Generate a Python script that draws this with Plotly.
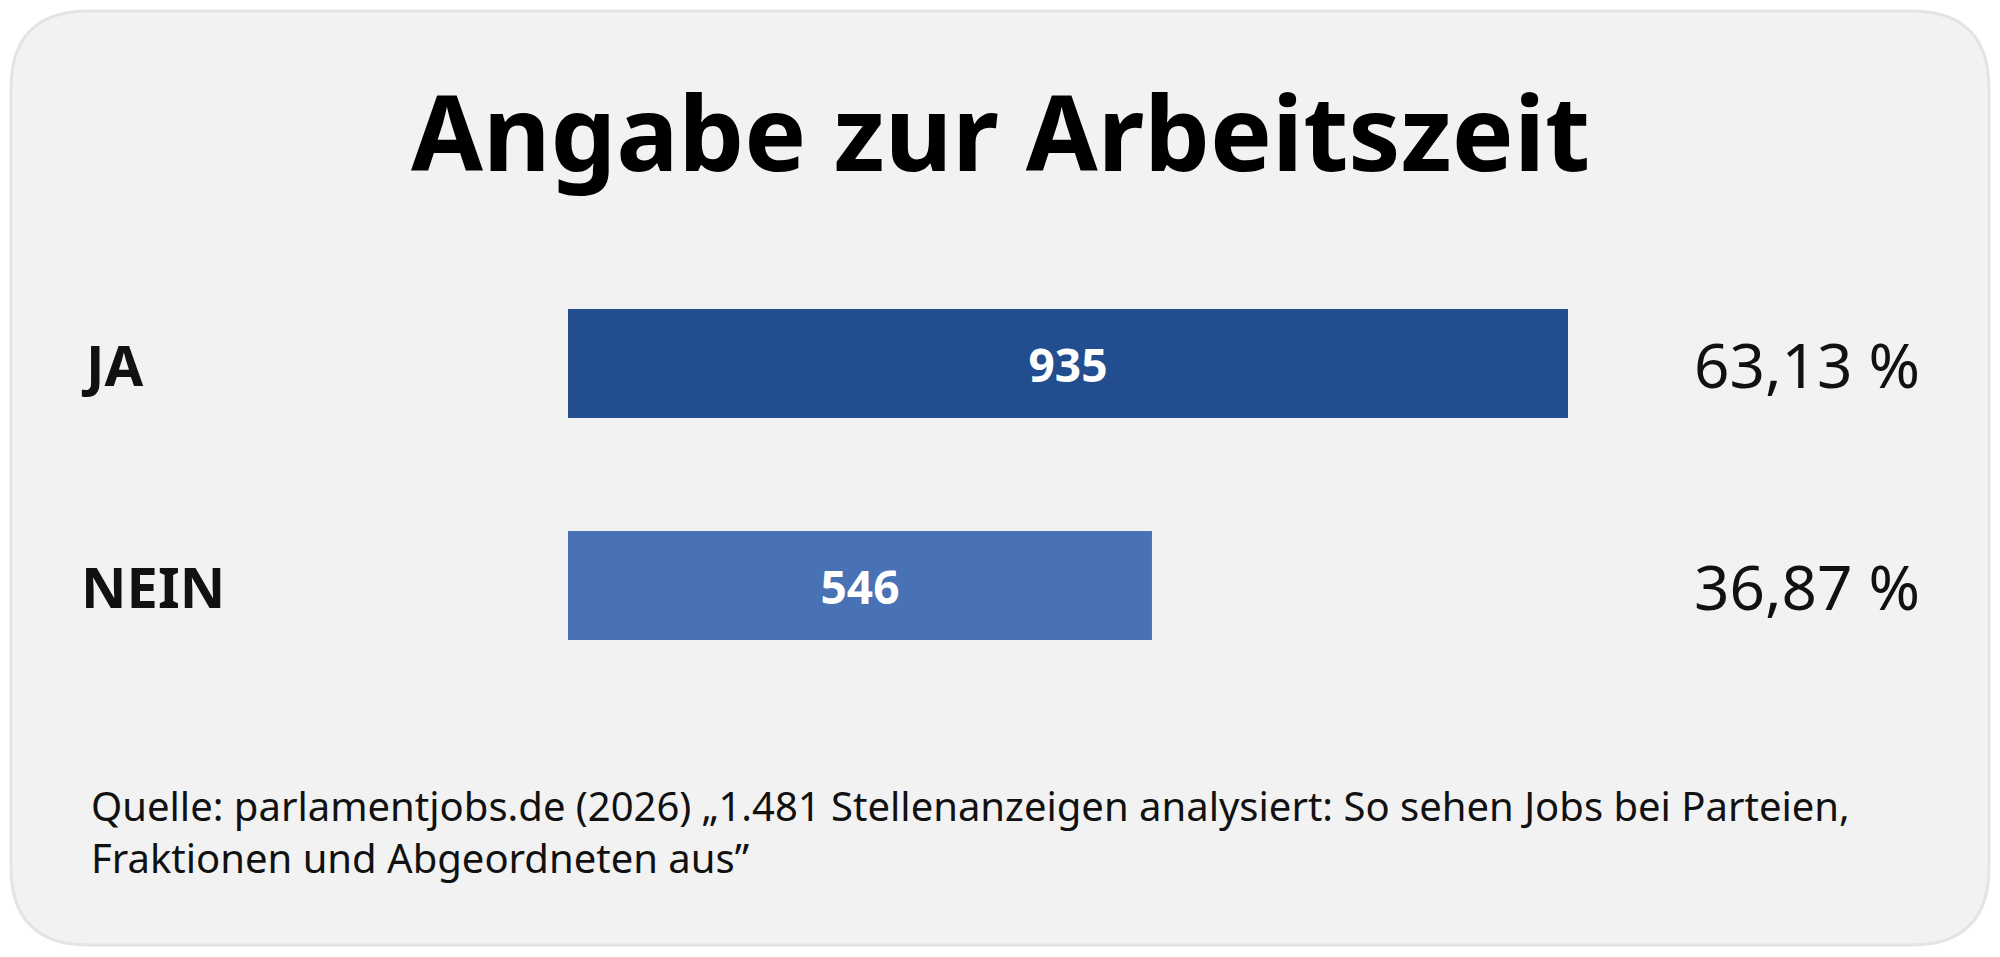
import plotly.graph_objects as go

# ---- data ----
categories = ["NEIN", "JA"]
counts = [546, 935]
percent_labels = ["36,87 %", "63,13 %"]
bar_colors = ["#4872B5", "#224E8F"]
title_text = "Angabe zur Arbeitszeit"
source_lines = ["Quelle: parlamentjobs.de (2026) \u201e1.481 Stellenanzeigen analysiert: So sehen Jobs bei Parteien,",
                "Fraktionen und Abgeordneten aus\u201d"]

# page body has an 8px margin; figure sized so the screenshot matches 2000x957
OFF = 8
W, H = 2000 - 2 * OFF, 957 - 2 * OFF
FONT = "Noto Sans"


def px_x(x):
    return (x - OFF) / W


def px_y(y):
    return 1 - (y - OFF) / H


def rounded_rect(x0, y0, x1, y1, r):
    def P(x, y):
        return f"{px_x(x):.5f},{px_y(y):.5f}"
    return (f"M {P(x0 + r, y0)} L {P(x1 - r, y0)} Q {P(x1, y0)} {P(x1, y0 + r)} "
            f"L {P(x1, y1 - r)} Q {P(x1, y1)} {P(x1 - r, y1)} "
            f"L {P(x0 + r, y1)} Q {P(x0, y1)} {P(x0, y1 - r)} "
            f"L {P(x0, y0 + r)} Q {P(x0, y0)} {P(x0 + r, y0)} Z")


fig = go.Figure()
fig.add_trace(go.Bar(
    y=categories, x=counts, orientation="h",
    marker=dict(color=bar_colors, line=dict(width=0)),
    width=0.49,
    text=[str(v) for v in counts], textposition="inside", insidetextanchor="middle",
    textfont=dict(family=FONT, size=46, color="white", weight="bold"),
    hoverinfo="skip",
))

annotations = []
for cat, pct in zip(categories, percent_labels):
    annotations.append(dict(x=px_x(79), xref="paper", y=cat, yref="y", text=cat,
                            showarrow=False, xanchor="left", yanchor="middle",
                            font=dict(family=FONT, size=56, color="#111111", weight="bold")))
    annotations.append(dict(x=px_x(1922), xref="paper", y=cat, yref="y", text=pct,
                            showarrow=False, xanchor="right", yanchor="middle",
                            font=dict(family=FONT, size=62, color="#111111")))

annotations.append(dict(x=px_x(1000), xref="paper", y=px_y(131), yref="paper", text=title_text,
                        showarrow=False, xanchor="center", yanchor="middle",
                        font=dict(family=FONT, size=104, color="#000000", weight="bold")))
annotations.append(dict(x=px_x(89), xref="paper", y=px_y(831), yref="paper",
                        text="<br>".join(source_lines),
                        showarrow=False, xanchor="left", yanchor="middle", align="left",
                        font=dict(family=FONT, size=40, color="#111111")))

fig.update_layout(
    width=W, height=H,
    margin=dict(l=0, r=0, t=0, b=0),
    paper_bgcolor="white", plot_bgcolor="rgba(0,0,0,0)",
    showlegend=False,
    xaxis=dict(domain=[px_x(568), px_x(568 + 1000 * 1000 / 935)], range=[0, 1000],
               visible=False, fixedrange=True),
    yaxis=dict(domain=[px_y(696.5), px_y(252.5)], range=[-0.5, 1.5], type="category",
               categoryorder="array", categoryarray=categories,
               visible=False, fixedrange=True),
    shapes=[dict(type="path", xref="paper", yref="paper",
                 path=rounded_rect(11, 11, 1989, 945, 78),
                 fillcolor="#F2F2F2", line=dict(color="#E4E4E4", width=3), layer="below")],
    annotations=annotations,
)

fig.write_html("out.html")
